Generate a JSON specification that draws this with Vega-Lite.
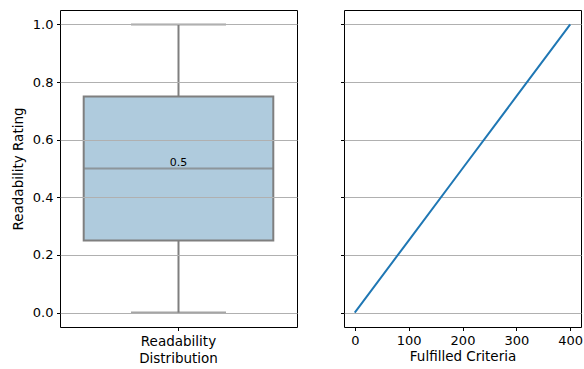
{
  "$schema": "https://vega.github.io/schema/vega-lite/v6.json",
  "padding": {"left": 10, "top": 9, "right": 0, "bottom": 2},
  "background": "white",
  "spacing": 41,
  "config": {
    "font": "DejaVu Sans",
    "view": {"stroke": "#000000", "strokeWidth": 1},
    "axis": {
      "labelFont": "DejaVu Sans", "titleFont": "DejaVu Sans",
      "labelFontSize": 13, "titleFontSize": 13.5, "titleFontWeight": "normal",
      "labelColor": "#000000", "titleColor": "#000000",
      "tickColor": "#000000", "tickSize": 3.5, "tickWidth": 1,
      "domain": false, "labelPadding": 3.5, "grid": false,
      "gridColor": "#b0b0b0", "gridWidth": 1
    }
  },
  "hconcat": [
    {
      "width": 237,
      "height": 317,
      "data": {"values": [{"group": "Readability Distribution", "min": 0, "q1": 0.25, "median": 0.5, "q3": 0.75, "max": 1}]},
      "encoding": {
        "x": {
          "field": "group", "type": "nominal",
          "scale": {"paddingInner": 0, "paddingOuter": 0.125},
          "axis": {"title": null, "labelAngle": 0, "labelExpr": "split(datum.label, ' ')", "labelLineHeight": 17, "labelFontSize": 13.5}
        }
      },
      "layer": [
        {
          "mark": {"type": "rule", "color": "#7f7f7f", "strokeWidth": 2},
          "encoding": {
            "y": {"field": "min", "type": "quantitative", "scale": {"domain": [-0.05, 1.05], "nice": false, "zero": false},
              "axis": {"title": "Readability Rating", "values": [0, 0.2, 0.4, 0.6, 0.8, 1.0], "format": ".1f", "grid": true, "zindex": 1, "titlePadding": 7}},
            "y2": {"field": "q1"}
          }
        },
        {
          "mark": {"type": "rule", "color": "#7f7f7f", "strokeWidth": 2},
          "encoding": {
            "y": {"field": "q3", "type": "quantitative"},
            "y2": {"field": "max"}
          }
        },
        {
          "mark": {"type": "bar", "fill": "#afcbdd", "stroke": "#7f7f7f", "strokeWidth": 2, "width": {"band": 1}},
          "encoding": {
            "y": {"field": "q1", "type": "quantitative"},
            "y2": {"field": "q3"}
          }
        },
        {
          "mark": {"type": "tick", "color": "#7f7f7f", "thickness": 2, "size": 189.6, "orient": "horizontal"},
          "encoding": {"y": {"field": "median", "type": "quantitative"}}
        },
        {
          "mark": {"type": "tick", "color": "#7f7f7f", "thickness": 2, "size": 95, "orient": "horizontal"},
          "encoding": {"y": {"field": "min", "type": "quantitative"}}
        },
        {
          "mark": {"type": "tick", "color": "#7f7f7f", "thickness": 2, "size": 95, "orient": "horizontal"},
          "encoding": {"y": {"field": "max", "type": "quantitative"}}
        },
        {
          "mark": {"type": "text", "fontSize": 11, "color": "#000000", "baseline": "alphabetic", "dy": -3, "font": "DejaVu Sans"},
          "encoding": {
            "y": {"field": "median", "type": "quantitative"},
            "text": {"field": "median", "type": "quantitative", "format": ".1f"}
          }
        }
      ]
    },
    {
      "width": 237,
      "height": 317,
      "data": {"values": [{"criteria": 0, "rating": 0}, {"criteria": 100, "rating": 0.25}, {"criteria": 200, "rating": 0.5}, {"criteria": 300, "rating": 0.75}, {"criteria": 400, "rating": 1}]},
      "mark": {"type": "line", "color": "#1f77b4", "strokeWidth": 2},
      "encoding": {
        "x": {"field": "criteria", "type": "quantitative", "scale": {"domain": [-20, 420], "nice": false, "zero": false},
          "axis": {"title": "Fulfilled Criteria", "values": [0, 100, 200, 300, 400], "titlePadding": 2}},
        "y": {"field": "rating", "type": "quantitative", "scale": {"domain": [-0.05, 1.05], "nice": false, "zero": false},
          "axis": {"title": null, "labels": false, "values": [0, 0.2, 0.4, 0.6, 0.8, 1.0], "grid": true}}
      }
    }
  ]
}
